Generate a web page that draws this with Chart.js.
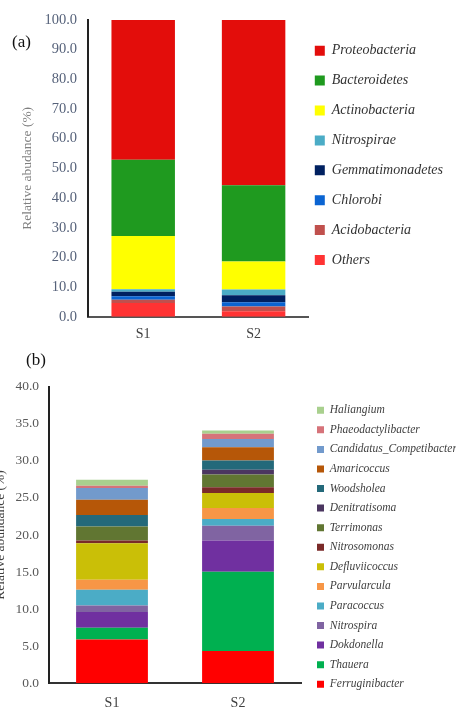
<!DOCTYPE html>
<html>
<head>
<meta charset="utf-8">
<script src="https://cdn.jsdelivr.net/npm/chart.js@4.4.1/dist/chart.umd.min.js"></script>
<style>
  body { margin: 0; background: #fff; }
  #page { position: relative; width: 456px; height: 709px; overflow: hidden; }
  .box { position: absolute; left: 0; width: 456px; }
  .tag { position: absolute; font-family: "Liberation Serif", serif; font-size: 17px; line-height: 17px; color: #111; }
</style>
</head>
<body>
<div id="page">
  <div class="box" style="top:0;height:345px"><canvas id="phylumChart"></canvas></div>
  <div class="box" style="top:340px;height:369px"><canvas id="genusChart"></canvas></div>
  <div class="tag" style="left:12px;top:33px">(a)</div>
  <div class="tag" style="left:26px;top:351px">(b)</div>
</div>
<script>
// samples
const samples = ["S1", "S2"];

// (a) phylum level, listed from the bottom of the stack upwards
const phyla = ["Others", "Acidobacteria", "Chlorobi", "Gemmatimonadetes", "Nitrospirae", "Actinobacteria", "Bacteroidetes", "Proteobacteria"];
const phylaS1 = [4.6, 1.15, 1.15, 1.55, 0.8, 17.95, 25.7, 47.1];
const phylaS2 = [1.8, 1.6, 1.5, 2.3, 2.0, 9.4, 25.7, 55.7];
const phylaColors = ["#FF3333", "#C0504D", "#0A64D2", "#002060", "#4BACC6", "#FFFF00", "#1F9A1F", "#E30D0B"];

// (b) genus level, listed from the bottom of the stack upwards
const genera = ["Ferruginibacter", "Thauera", "Dokdonella", "Nitrospira", "Paracoccus", "Parvularcula", "Defluviicoccus", "Nitrosomonas", "Terrimonas", "Denitratisoma", "Woodsholea", "Amaricoccus", "Candidatus_Competibacter", "Phaeodactylibacter", "Haliangium"];
const generaS1 = [5.9, 1.6, 2.1, 0.9, 2.1, 1.35, 4.95, 0.35, 1.9, 0, 1.55, 2.05, 1.6, 0.3, 0.8];
const generaS2 = [4.35, 10.7, 4.2, 2.0, 0.9, 1.5, 2.0, 0.8, 1.7, 0.65, 1.25, 1.8, 1.1, 0.7, 0.45];
const generaColors = ["#FF0000", "#00B050", "#7030A0", "#8064A2", "#4BACC6", "#F79646", "#CABF07", "#7A2A28", "#617632", "#4B3660", "#24697A", "#B65708", "#729ACC", "#D6737A", "#A9D08E"];

const serif = "'Liberation Serif', 'Times New Roman', serif";

function buildDatasets(names, s1, s2, colors, barPct) {
    return names.map((name, i) => ({
        label: name,
        data: [s1[i], s2[i]],
        backgroundColor: colors[i],
        borderWidth: 0,
        barPercentage: barPct,
        categoryPercentage: 1
    }));
}

// legend text as one-line arrays so the row step follows font.lineHeight
function legendLabels(chart) {
    const items = Chart.defaults.plugins.legend.labels.generateLabels(chart);
    items.forEach(item => { item.text = [item.text]; });
    return items;
}

function initChart(canvasId, cfg) {
    const ctx = document.getElementById(canvasId).getContext("2d");
    return new Chart(ctx, {
        type: "bar",
        data: {
            labels: samples,
            datasets: buildDatasets(cfg.names, cfg.s1, cfg.s2, cfg.colors, cfg.barPct)
        },
        options: {
            responsive: true,
            maintainAspectRatio: false,
            animation: false,
            layout: { padding: cfg.padding },
            plugins: {
                tooltip: { enabled: false },
                legend: {
                    position: "right",
                    align: "start",
                    reverse: true,
                    maxWidth: cfg.legendMaxWidth,
                    title: {
                        display: true,
                        text: "",
                        padding: 0,
                        font: { size: 1, lineHeight: cfg.legendSpacer + "px" }
                    },
                    labels: {
                        generateLabels: legendLabels,
                        boxWidth: cfg.boxSize,
                        boxHeight: cfg.boxSize,
                        padding: cfg.legendPadding,
                        color: cfg.legendColor,
                        font: { family: serif, size: cfg.legendFont, style: "italic", lineHeight: cfg.legendStep + "px" }
                    }
                }
            },
            scales: {
                x: {
                    stacked: true,
                    grid: { display: false, drawTicks: false },
                    border: { display: true, color: cfg.xLineColor, width: 2 },
                    ticks: { color: "#404040", padding: cfg.xPadding, font: { family: serif, size: 14 } },
                    afterFit: s => { s.height = cfg.xHeight; }
                },
                y: {
                    stacked: true,
                    min: 0,
                    max: cfg.yMax,
                    grid: { display: false, drawTicks: false },
                    border: { display: true, color: "#222", width: 2 },
                    ticks: {
                        stepSize: cfg.yStep,
                        padding: cfg.yPadding,
                        color: cfg.yTickColor,
                        font: { family: serif, size: cfg.yTickFont },
                        callback: v => v.toFixed(1)
                    },
                    title: {
                        display: true,
                        text: cfg.yTitle,
                        color: cfg.yTitleColor,
                        padding: { top: cfg.yTitlePad, bottom: 0 },
                        font: { family: serif, size: 13.5 }
                    },
                    afterFit: s => { s.width = cfg.yWidth; }
                }
            }
        }
    });
}

initChart("phylumChart", {
    names: phyla, s1: phylaS1, s2: phylaS2, colors: phylaColors, barPct: 0.575,
    padding: { top: 20, left: 0, right: 3, bottom: 0 },
    legendMaxWidth: 147, legendSpacer: 17.7, legendPadding: 6, legendStep: 23.9,
    boxSize: 10, legendFont: 14, legendColor: "#333",
    xLineColor: "#555", xPadding: 8.9, xHeight: 28.3,
    yMax: 100, yStep: 10, yPadding: 11, yTickColor: "#56627a", yTickFont: 14.5,
    yTitle: "Relative abudance (%)", yTitleColor: "#808080", yTitlePad: 19, yWidth: 88
});

initChart("genusChart", {
    names: genera, s1: generaS1, s2: generaS2, colors: generaColors, barPct: 0.57,
    padding: { top: 46.7, left: 0, right: 0, bottom: 0 },
    legendMaxWidth: 155, legendSpacer: 1.8, legendPadding: 16, legendStep: 3.57,
    boxSize: 7, legendFont: 11.5, legendColor: "#404040",
    xLineColor: "#333", xPadding: 11.3, xHeight: 25.7,
    yMax: 40, yStep: 5, yPadding: 10, yTickColor: "#595959", yTickFont: 13.5,
    yTitle: "Relative abundance (%)", yTitleColor: "#404040", yTitlePad: -8, yWidth: 49
});
</script>
</body>
</html>
